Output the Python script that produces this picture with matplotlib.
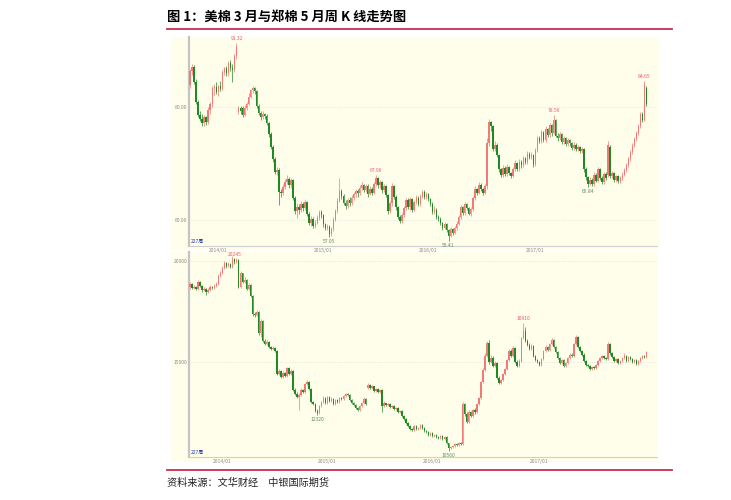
import numpy as np
import pandas as pd
import matplotlib
matplotlib.use('Agg')
import matplotlib.pyplot as plt
from matplotlib.patches import Rectangle
from matplotlib.lines import Line2D

plt.rcParams['font.family'] = ['Noto Sans CJK SC', 'DejaVu Sans']

title = '图 1：美棉 3 月与郑棉 5 月周 K 线走势图'
source = '资料来源：文华财经　中银国际期货'
bars_label = '227周'

# ICE cotton (March), weekly K-line
ice_start = '2013-09-27'
ice_open = [84.0, 86.4, 87.2, 84.5, 81.0, 78.6, 78.0, 77.3, 78.2, 77.4,
            79.6, 80.6, 83.4, 83.6, 82.7, 83.8, 83.2, 86.2, 86.9, 86.0,
            87.8, 86.9, 86.6, 89.0, 79.2, 79.8, 79.9, 78.6, 79.8, 80.6,
            81.9, 83.0, 83.4, 82.8, 80.2, 79.0, 78.3, 78.8, 78.4, 77.2,
            75.2, 73.0, 70.8, 68.6, 68.9, 65.0, 64.8, 65.9, 66.8, 67.3,
            66.2, 67.1, 64.0, 61.6, 62.4, 61.8, 62.9, 62.1, 63.3, 61.2,
            59.6, 60.2, 59.0, 59.6, 60.4, 61.5, 60.9, 59.3, 58.7, 58.9,
            57.6, 58.4, 60.1, 61.6, 63.5, 65.1, 64.3, 63.1, 62.5, 63.6,
            63.0, 64.0, 64.6, 65.2, 64.8, 65.8, 66.3, 65.4, 66.1, 64.7,
            65.6, 64.9, 66.4, 67.5, 66.2, 66.7, 65.3, 66.0, 64.5, 61.6,
            63.0, 66.0, 64.2, 62.3, 60.6, 59.8, 60.9, 62.2, 63.6, 62.3,
            63.8, 61.9, 63.2, 64.0, 62.8, 64.2, 65.0, 64.1, 64.6, 63.8,
            62.9, 61.5, 61.9, 60.6, 60.2, 59.5, 58.7, 59.3, 58.2, 57.2,
            58.4, 57.8, 58.6, 59.4, 60.6, 62.3, 61.3, 62.8, 62.1, 61.2,
            62.0, 63.9, 65.5, 64.9, 66.3, 65.6, 64.9, 66.0, 73.6, 77.4,
            76.6, 72.6, 73.4, 71.6, 69.0, 68.0, 69.3, 68.2, 69.5, 68.4,
            67.9, 69.1, 70.2, 69.0, 70.4, 69.7, 71.0, 70.3, 71.8, 71.2,
            71.6, 69.9, 72.4, 74.6, 74.0, 75.6, 74.2, 76.2, 75.1, 76.9,
            75.4, 77.8, 75.0, 74.5, 75.3, 73.8, 74.6, 73.5, 74.2, 73.6,
            72.8, 73.4, 72.6, 72.9, 72.3, 72.6, 69.0, 67.6, 66.5, 67.2,
            66.4, 68.1, 67.0, 69.0, 67.4, 66.8, 68.2, 68.0, 73.0, 67.8,
            68.3, 67.1, 67.8, 66.9, 67.5, 68.1, 68.9, 69.7, 70.8, 72.0,
            73.2, 74.3, 75.4, 76.6, 78.9, 77.8, 83.4]
ice_high = [86.8, 87.7, 87.5, 85.0, 81.3, 79.4, 78.8, 78.6, 78.5, 80.0,
            81.0, 83.8, 84.2, 84.4, 84.0, 84.6, 86.6, 87.2, 87.3, 88.2,
            88.4, 87.6, 89.4, 91.32, 80.3, 80.2, 80.3, 80.4, 81.0, 82.5,
            83.3, 83.7, 83.6, 83.0, 80.6, 79.3, 79.3, 79.0, 78.8, 77.4,
            75.6, 73.4, 71.2, 69.4, 69.2, 65.6, 66.4, 67.3, 68.0, 67.6,
            67.5, 67.3, 64.3, 63.0, 62.8, 63.4, 63.2, 63.6, 63.5, 61.5,
            60.7, 60.5, 60.0, 61.0, 61.9, 61.8, 61.2, 59.6, 59.4, 59.1,
            58.8, 60.5, 62.0, 63.9, 67.4, 65.5, 64.6, 63.6, 64.0, 64.2,
            64.5, 65.0, 65.6, 65.5, 66.2, 66.8, 66.5, 66.4, 66.4, 66.0,
            65.9, 66.8, 67.96, 67.6, 67.1, 66.9, 66.4, 66.3, 64.7, 63.5,
            66.6, 66.2, 64.5, 62.5, 61.0, 61.3, 62.6, 64.0, 63.9, 64.2,
            64.0, 63.6, 64.5, 64.3, 64.6, 65.4, 65.3, 65.0, 64.8, 64.0,
            63.2, 62.5, 62.1, 60.9, 60.5, 59.7, 59.7, 59.5, 58.4, 58.8,
            58.6, 59.0, 59.8, 61.0, 62.7, 62.5, 63.2, 63.0, 62.4, 62.4,
            64.3, 66.0, 65.8, 66.7, 66.6, 65.8, 66.4, 74.5, 78.0, 77.6,
            76.8, 74.0, 73.6, 71.8, 69.3, 69.8, 69.6, 69.9, 69.6, 68.6,
            69.5, 70.6, 70.4, 70.8, 70.7, 71.4, 71.2, 72.2, 72.0, 72.0,
            71.8, 72.8, 75.0, 75.0, 76.0, 75.8, 76.6, 76.4, 77.3, 77.0,
            78.56, 77.9, 75.4, 75.7, 75.5, 75.0, 74.8, 74.6, 74.4, 73.8,
            73.8, 73.6, 73.3, 73.1, 73.0, 72.8, 69.4, 67.9, 67.6, 67.4,
            68.5, 68.4, 69.4, 69.3, 67.8, 68.6, 68.5, 74.0, 73.3, 68.7,
            68.5, 68.1, 68.0, 67.9, 68.5, 69.3, 70.1, 71.2, 72.4, 73.6,
            74.7, 75.8, 77.0, 79.2, 79.1, 84.65, 83.8]
ice_low = [83.5, 85.8, 84.2, 80.6, 78.2, 77.5, 76.6, 76.6, 76.8, 77.0,
           78.8, 80.0, 82.2, 82.4, 82.0, 82.8, 83.0, 85.8, 85.6, 85.6,
           86.5, 84.4, 86.2, 88.5, 78.9, 78.9, 78.3, 78.4, 79.5, 80.4,
           81.6, 82.6, 82.4, 79.8, 78.7, 77.8, 77.9, 77.9, 76.9, 74.8,
           72.6, 70.4, 68.2, 68.0, 62.7, 64.1, 64.5, 65.5, 66.4, 65.8,
           65.8, 63.6, 61.2, 60.4, 61.2, 61.4, 61.7, 61.8, 60.8, 59.2,
           59.0, 58.6, 58.6, 59.3, 60.1, 60.4, 58.8, 58.3, 58.2, 57.05,
           57.3, 58.1, 59.8, 61.3, 63.2, 63.8, 62.7, 62.0, 62.2, 62.5,
           62.7, 63.6, 64.2, 64.2, 64.5, 65.4, 65.0, 65.0, 64.2, 64.4,
           64.4, 64.6, 66.1, 65.8, 65.8, 64.9, 65.0, 64.1, 61.2, 61.3,
           62.6, 63.8, 61.8, 60.2, 59.5, 59.5, 60.6, 61.8, 62.0, 61.9,
           61.5, 61.6, 62.9, 62.5, 62.6, 63.9, 63.8, 63.8, 63.4, 62.5,
           61.1, 61.2, 60.2, 59.8, 59.1, 58.3, 58.5, 57.9, 56.41, 57.0,
           57.4, 57.5, 58.3, 59.1, 60.3, 61.0, 61.0, 61.8, 60.9, 60.8,
           61.7, 63.6, 64.5, 64.6, 65.2, 64.5, 64.7, 65.6, 73.2, 75.8,
           72.2, 72.3, 71.2, 68.6, 67.6, 67.7, 67.9, 67.9, 68.0, 67.5,
           67.6, 68.7, 68.7, 68.7, 69.3, 69.4, 70.0, 70.0, 70.9, 70.9,
           69.5, 69.6, 72.1, 73.6, 73.7, 73.9, 73.9, 74.8, 74.8, 75.0,
           75.2, 74.7, 74.1, 74.2, 73.5, 73.5, 73.2, 73.2, 73.2, 72.4,
           72.5, 72.2, 72.3, 71.9, 71.9, 68.6, 67.2, 65.84, 66.2, 66.1,
           66.1, 66.7, 66.7, 67.1, 66.4, 66.5, 67.1, 67.6, 67.4, 67.4,
           66.8, 66.8, 66.6, 66.6, 67.2, 67.8, 68.6, 69.4, 70.5, 71.7,
           72.9, 74.0, 75.1, 76.3, 77.4, 77.5, 80.3]
ice_close = [86.4, 87.2, 84.5, 81.0, 78.6, 78.0, 77.3, 78.2, 77.4, 79.6,
             80.6, 83.4, 83.6, 82.7, 83.8, 83.2, 86.2, 86.9, 86.0, 87.8,
             86.9, 86.6, 89.0, 90.6, 79.8, 79.3, 78.6, 79.8, 80.6, 81.9,
             83.0, 83.4, 82.8, 80.2, 79.0, 78.3, 78.8, 78.4, 77.2, 75.2,
             73.0, 70.8, 68.6, 68.9, 65.0, 64.8, 65.9, 66.8, 67.3, 66.2,
             67.1, 64.0, 61.6, 62.4, 61.8, 62.9, 62.1, 63.3, 61.2, 59.6,
             60.2, 59.0, 59.6, 60.4, 61.5, 60.9, 59.3, 58.7, 58.9, 57.6,
             58.4, 60.1, 61.6, 63.5, 65.1, 64.3, 63.1, 62.5, 63.6, 63.0,
             64.0, 64.6, 65.2, 64.8, 65.8, 66.3, 65.4, 66.1, 64.7, 65.6,
             64.9, 66.4, 67.5, 66.2, 66.7, 65.3, 66.0, 64.5, 61.6, 63.0,
             66.0, 64.2, 62.3, 60.6, 59.8, 60.9, 62.2, 63.6, 62.3, 63.8,
             61.9, 63.2, 64.0, 62.8, 64.2, 65.0, 64.1, 64.6, 63.8, 62.9,
             61.5, 61.9, 60.6, 60.2, 59.5, 58.7, 59.3, 58.2, 57.2, 58.4,
             57.8, 58.6, 59.4, 60.6, 62.3, 61.3, 62.8, 62.1, 61.2, 62.0,
             63.9, 65.5, 64.9, 66.3, 65.6, 64.9, 66.0, 73.6, 77.4, 76.6,
             72.6, 73.4, 71.6, 69.0, 68.0, 69.3, 68.2, 69.5, 68.4, 67.9,
             69.1, 70.2, 69.0, 70.4, 69.7, 71.0, 70.3, 71.8, 71.2, 71.6,
             69.9, 72.4, 74.6, 74.0, 75.6, 74.2, 76.2, 75.1, 76.9, 75.4,
             77.8, 75.0, 74.5, 75.3, 73.8, 74.6, 73.5, 74.2, 73.6, 72.8,
             73.4, 72.6, 72.9, 72.3, 72.6, 69.0, 67.6, 66.5, 67.2, 66.4,
             68.1, 67.0, 69.0, 67.4, 66.8, 68.2, 67.5, 73.3, 67.8, 68.3,
             67.1, 67.8, 66.9, 67.5, 68.1, 68.9, 69.7, 70.8, 72.0, 73.2,
             74.3, 75.4, 76.6, 78.9, 77.8, 84.2, 80.6]

# Zhengzhou cotton CF (May), weekly K-line
cf_start = '2013-09-13'
cf_open = [18700, 18850, 18650, 18700, 18620, 18980, 18750, 18550, 18620, 18480,
           18560, 18700, 18650, 18780, 18850, 19250, 19400, 19650, 19900, 19750,
           19850, 19700, 20100, 19950, 20050, 18700, 19400, 18950, 19050, 18600,
           18800, 18250, 17350, 17300, 17450, 16400, 17000, 16000, 15850, 15950,
           15700, 15600, 15650, 15500, 14400, 14550, 14250, 14450, 14300, 14700,
           14400, 14550, 13600, 13400, 13250, 13350, 13600, 13500, 13900, 14000,
           13650, 13000, 12900, 12550, 12450, 12800, 13000, 13200, 12950, 13250,
           13050, 13150, 12900, 13100, 13000, 13200, 13150, 13300, 13400, 13350,
           13100, 12950, 12850, 12700, 12600, 12800, 12950, 13150, 13700, 13850,
           13700, 13800, 13550, 13650, 13500, 13600, 12800, 12950, 12850, 12900,
           12750, 12800, 12650, 12700, 12500, 12550, 12300, 12150, 11950, 11800,
           11650, 11600, 11800, 11650, 11700, 11850, 11700, 11550, 11500, 11350,
           11450, 11300, 11350, 11250, 11200, 11300, 11150, 11250, 10950, 10700,
           10750, 10800, 10900, 10850, 10950, 10900, 12900, 12400, 12000, 12500,
           12300, 12600, 12500, 12900, 13200, 14000, 14600, 15300, 15900, 15000,
           15200, 14800, 14950, 14200, 13950, 14100, 14400, 14650, 15100, 15500,
           15300, 15650, 15000, 14800, 15050, 16150, 16500, 16000, 15800, 15600,
           15750, 15300, 15100, 15000, 14850, 15150, 15500, 15700, 15550, 15850,
           16050, 15700, 15450, 15200, 14950, 15100, 14800, 14950, 15200, 15350,
           15300, 15850, 16200, 15700, 15500, 15350, 15050, 14850, 14800, 14650,
           14750, 14700, 14850, 15050, 15200, 15300, 15200, 15150, 15850, 15400,
           15250, 15050, 15150, 14950, 15050, 15200, 15300, 15050, 15250, 15150,
           15000, 15100, 14900, 15050, 15200, 15300, 15250]
cf_high = [18950, 18900, 18800, 18750, 19050, 19000, 18800, 18700, 18680, 18650,
           18800, 18750, 18850, 18950, 19350, 19500, 19750, 20000, 19950, 19950,
           19900, 20245, 20150, 20150, 20100, 19500, 19400, 19200, 19100, 18900,
           18850, 18300, 17450, 17550, 17500, 17100, 17050, 16100, 16050, 16000,
           15750, 15750, 15700, 15550, 14650, 14600, 14550, 14500, 14750, 14750,
           14650, 14600, 13700, 13500, 13450, 13700, 13650, 13950, 14100, 14050,
           13700, 13050, 12950, 12650, 12850, 13050, 13300, 13250, 13300, 13300,
           13250, 13200, 13150, 13150, 13250, 13250, 13350, 13450, 13450, 13400,
           13150, 13000, 12900, 12750, 12850, 13000, 13250, 13200, 13950, 13900,
           13850, 13800, 13700, 13700, 13650, 13650, 13050, 12950, 12950, 12950,
           12850, 12850, 12750, 12750, 12600, 12600, 12350, 12200, 12000, 11850,
           11700, 11850, 11850, 11750, 11900, 11900, 11750, 11600, 11550, 11500,
           11500, 11400, 11400, 11300, 11350, 11350, 11300, 11300, 10950, 10800,
           10850, 10950, 10950, 11000, 11000, 13000, 12950, 12500, 12600, 12550,
           12650, 12700, 12950, 13250, 14050, 14700, 15400, 16000, 16050, 15350,
           15300, 15050, 15000, 14300, 14150, 14450, 14700, 15150, 15600, 15600,
           15750, 15700, 15100, 15150, 16200, 16910, 16700, 16100, 15900, 15850,
           15800, 15350, 15150, 15050, 15200, 15550, 15800, 15750, 15900, 16150,
           16100, 15750, 15500, 15250, 15150, 15150, 15000, 15250, 15400, 15400,
           15900, 16300, 16250, 15750, 15550, 15400, 15100, 14900, 14850, 14800,
           14800, 14900, 15100, 15250, 15350, 15350, 15250, 15950, 15900, 15450,
           15300, 15200, 15200, 15100, 15250, 15400, 15350, 15300, 15300, 15200,
           15150, 15150, 15100, 15250, 15350, 15350, 15500]
cf_low = [18600, 18600, 18600, 18550, 18580, 18700, 18450, 18500, 18300, 18420,
          18500, 18600, 18600, 18700, 18800, 19200, 19350, 19600, 19650, 19700,
          19650, 19650, 19850, 19900, 18650, 18650, 18900, 18900, 18550, 18550,
          18200, 17250, 17200, 17250, 16300, 16200, 15950, 15800, 15800, 15650,
          15550, 15550, 15450, 14350, 14350, 14200, 14200, 14250, 14250, 14350,
          14350, 13550, 13350, 13200, 12600, 13300, 13450, 13450, 13850, 13600,
          12950, 12850, 12500, 12320, 12400, 12750, 12950, 12900, 12900, 13000,
          13000, 12850, 12850, 12950, 12950, 13100, 13100, 13250, 13300, 13050,
          12900, 12800, 12650, 12550, 12550, 12750, 12900, 12850, 13650, 13650,
          13650, 13500, 13500, 13450, 13450, 12500, 12750, 12800, 12800, 12700,
          12700, 12600, 12600, 12450, 12450, 12250, 12100, 11900, 11750, 11600,
          11550, 11550, 11600, 11600, 11650, 11650, 11500, 11450, 11300, 11300,
          11250, 11250, 11200, 11150, 11150, 11100, 11100, 10900, 10560, 10650,
          10700, 10750, 10800, 10800, 10850, 10850, 12300, 11950, 11950, 12250,
          12250, 12400, 12450, 12850, 13150, 13950, 14550, 15250, 14900, 14950,
          14750, 14750, 14150, 13900, 13900, 14050, 14350, 14600, 15050, 15250,
          15250, 14950, 14750, 14750, 15000, 16100, 15950, 15750, 15550, 15550,
          15250, 15050, 14950, 14800, 14800, 15100, 15450, 15500, 15500, 15800,
          15650, 15400, 15150, 14900, 14900, 14750, 14750, 14900, 15150, 15250,
          15250, 15800, 15650, 15450, 15300, 15000, 14800, 14750, 14600, 14600,
          14650, 14650, 14800, 15000, 15150, 15150, 15100, 15100, 15350, 15200,
          15000, 15000, 14900, 14900, 15000, 15150, 15000, 15000, 15100, 14950,
          14950, 14850, 14850, 15000, 15150, 15200, 15200]
cf_close = [18850, 18650, 18700, 18620, 18980, 18750, 18550, 18620, 18480, 18560,
            18700, 18650, 18780, 18850, 19250, 19400, 19650, 19900, 19750, 19850,
            19700, 20100, 19950, 20050, 18700, 19400, 18950, 19050, 18600, 18800,
            18250, 17350, 17300, 17450, 16400, 17000, 16000, 15850, 15950, 15700,
            15600, 15650, 15500, 14400, 14550, 14250, 14450, 14300, 14700, 14400,
            14550, 13600, 13400, 13250, 13350, 13600, 13500, 13900, 14000, 13650,
            13000, 12900, 12550, 12450, 12800, 13000, 13200, 12950, 13250, 13050,
            13150, 12900, 13100, 13000, 13200, 13150, 13300, 13400, 13350, 13100,
            12950, 12850, 12700, 12600, 12800, 12950, 13150, 12900, 13850, 13700,
            13800, 13550, 13650, 13500, 13600, 12800, 12950, 12850, 12900, 12750,
            12800, 12650, 12700, 12500, 12550, 12300, 12150, 11950, 11800, 11650,
            11600, 11800, 11650, 11700, 11850, 11700, 11550, 11500, 11350, 11450,
            11300, 11350, 11250, 11200, 11300, 11150, 11250, 10950, 10700, 10750,
            10800, 10900, 10850, 10950, 10900, 12900, 12400, 12000, 12500, 12300,
            12600, 12500, 12900, 13200, 14000, 14600, 15300, 15900, 15000, 15200,
            14800, 14950, 14200, 13950, 14100, 14400, 14650, 15100, 15500, 15300,
            15650, 15000, 14800, 15050, 16150, 16500, 16000, 15800, 15600, 15750,
            15300, 15100, 15000, 14850, 15150, 15500, 15700, 15550, 15850, 16050,
            15700, 15450, 15200, 14950, 15100, 14800, 14950, 15200, 15350, 15300,
            15850, 16200, 15700, 15500, 15350, 15050, 14850, 14800, 14650, 14750,
            14700, 14850, 15050, 15200, 15300, 15200, 15150, 15850, 15400, 15250,
            15050, 15150, 14950, 15050, 15200, 15300, 15050, 15250, 15150, 15000,
            15100, 14900, 15050, 15200, 15300, 15250, 15450]

year_dates = ['2014-01-01', '2015-01-01', '2016-01-01', '2017-01-01']
year_labels = ['2014/01', '2015/01', '2016/01', '2017/01']

W, H = 731, 500
UP = '#f47878'
DOWN = '#1f8a24'
HI_TXT = '#f05a6e'
LO_TXT = '#5f8f5f'
GRAY = '#8c8c8c'


def box(x0, y0, x1, y1):
    # pixel box (top-left origin) -> figure fraction rect
    return [x0 / W, 1 - y1 / H, (x1 - x0) / W, (y1 - y0) / H]


def candles(ax, o, h, l, c, minh):
    o, h, l, c = (np.asarray(a, dtype=float) for a in (o, h, l, c))
    x = np.arange(len(c))
    col = np.where(c >= o, UP, DOWN)
    ax.vlines(x, l, h, colors=col, lw=0.5, zorder=2)
    body = np.maximum(np.abs(c - o), minh)
    ax.bar(x, body, bottom=np.minimum(o, c), width=0.72, color=col, lw=0, zorder=3)


def mark(ax, vals, lo_i, hi_i, fmt, high=True, dx=0.0, dy=1.5):
    vals = np.asarray(vals)
    if high:
        i = lo_i + int(np.argmax(vals[lo_i:hi_i]))
        ax.annotate(fmt % vals[i], (i, vals[i]), xytext=(dx, dy), textcoords='offset points',
                    ha='center', va='bottom', fontsize=3.6, color=HI_TXT)
    else:
        i = lo_i + int(np.argmin(vals[lo_i:hi_i]))
        ax.annotate(fmt % vals[i], (i, vals[i]), xytext=(dx, -dy), textcoords='offset points',
                    ha='center', va='top', fontsize=3.6, color=LO_TXT)


def style(ax, start, n, yticks, ylabels, ylim):
    ax.set_facecolor('none')
    ax.set_xlim(-0.5, 231.2)
    ax.set_ylim(*ylim)
    for s in ['top', 'right']:
        ax.spines[s].set_visible(False)
    ax.spines['left'].set_color('#c4c4c4')
    ax.spines['left'].set_linewidth(1.6)
    ax.spines['bottom'].set_color('#cfcfcf')
    ax.spines['bottom'].set_linewidth(0.8)
    weeks = pd.date_range(start, periods=n, freq='7D')
    xt = [int(weeks.searchsorted(pd.Timestamp(d))) for d in year_dates]
    ax.set_xticks(xt)
    ax.set_xticklabels(year_labels)
    ax.set_yticks(yticks)
    ax.set_yticklabels(ylabels)
    ax.tick_params(length=0, labelsize=3.6, colors=GRAY, pad=1.2)
    for v in yticks:
        ax.axhline(v, color='#dadada', lw=0.5, ls=(0, (1, 1.5)), zorder=1)
    ax.text(0.004, 0.008, bars_label, transform=ax.transAxes, fontsize=3.6,
            color='#2b3aa6', ha='left', va='bottom')


fig = plt.figure(figsize=(W / 100, H / 100), dpi=100)

# pale yellow panels
for rect in [box(171, 37, 659, 250), box(171, 252, 657, 462)]:
    fig.patches.append(Rectangle((rect[0], rect[1]), rect[2], rect[3], transform=fig.transFigure,
                                 facecolor='#fefeea', edgecolor='none', zorder=-1))

ax1 = fig.add_axes(box(189, 37, 657, 246))
candles(ax1, ice_open, ice_high, ice_low, ice_close, 0.08)
style(ax1, ice_start, len(ice_close), [60, 80], ['60.00', '80.00'], (55.45, 92.44))
mark(ax1, ice_high, 0, 24, '%.2f')
mark(ax1, ice_high, 85, 100, '%.2f')
mark(ax1, ice_high, 170, 195, '%.2f')
mark(ax1, ice_high, 200, 227, '%.2f')
mark(ax1, ice_low, 60, 80, '%.2f', high=False)
mark(ax1, ice_low, 120, 140, '%.2f', high=False)
mark(ax1, ice_low, 190, 210, '%.2f', high=False)

ax2 = fig.add_axes(box(189, 252, 657, 457))
candles(ax2, cf_open, cf_high, cf_low, cf_close, 15)
style(ax2, cf_start, len(cf_close), [15000, 20000], ['15000', '20000'], (10250, 20450))
mark(ax2, cf_high, 0, 30, '%d', dx=2.0, dy=-0.5)
mark(ax2, cf_high, 150, 190, '%d')
mark(ax2, cf_low, 55, 80, '%d', high=False)
mark(ax2, cf_low, 120, 140, '%d', high=False)

# title, rules and source
fig.text(167 / W, 1 - 17 / H, title, fontsize=9.5, fontweight='bold', va='center', ha='left')
for y in [29, 470]:
    fig.add_artist(Line2D([167 / W, 672 / W], [1 - y / H, 1 - y / H], color='#cd2d4d', lw=1.3))
fig.text(167 / W, 1 - 483 / H, source, fontsize=7.3, va='center', ha='left', color='#222222')

fig.savefig('out.png', dpi=100, facecolor='white')
